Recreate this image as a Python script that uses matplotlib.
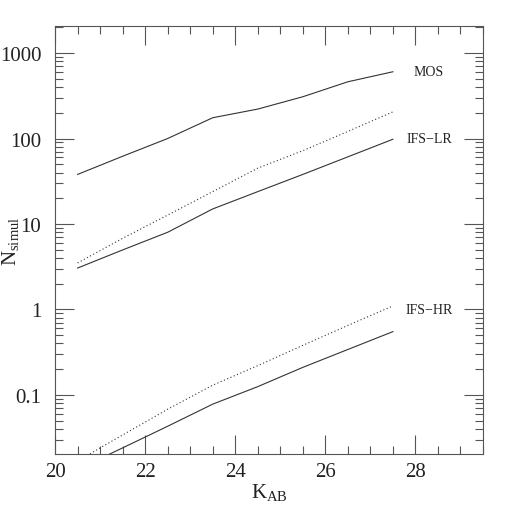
import numpy as np
import matplotlib
matplotlib.use("Agg")
import matplotlib.pyplot as plt
from matplotlib.ticker import FixedLocator, LogLocator, NullFormatter, FixedFormatter

# magnitudes where the curves are sampled
k_ab = [20.5, 21.5, 22.5, 23.5, 24.5, 25.5, 26.5, 27.5]

# number of simulated objects
mos = [38, 62, 100, 175, 221, 308, 461, 604]
ifs_lr_dot = [3.5, 6.8, 12.7, 23.9, 45, 72, 121, 205]
ifs_lr = [3.05, 4.97, 8.0, 15, 23.9, 38, 61, 98]
ifs_hr_dot = [0.0169, 0.034, 0.068, 0.13, 0.22, 0.38, 0.65, 1.1]
ifs_hr = [0.0135, 0.024, 0.043, 0.078, 0.125, 0.21, 0.34, 0.55]

labels = ["MOS", "IFS\u2212LR", "IFS\u2212HR"]
label_y = [604, 100, 1.0]

plt.rcParams['font.family'] = ['Liberation Serif', 'DejaVu Serif']
plt.rcParams['mathtext.fontset'] = 'custom'
plt.rcParams['mathtext.rm'] = 'Liberation Serif'
col = '#333333'

fig = plt.figure(figsize=(5.1, 5.1), dpi=100)
ax = fig.add_axes([0.108, 0.108, 0.839, 0.839])

ax.plot(k_ab, mos, color=col, lw=0.8)
ax.plot(k_ab, ifs_lr_dot, color=col, lw=0.8, ls=(0, (1, 2.2)))
ax.plot(k_ab, ifs_lr, color=col, lw=0.8)
ax.plot(k_ab, ifs_hr_dot, color=col, lw=0.8, ls=(0, (1, 2.2)))
ax.plot(k_ab, ifs_hr, color=col, lw=0.8)

for txt, yv in zip(labels, label_y):
    ax.text(28.3, yv, txt, fontsize=10, ha='center', va='center', color='#222222')

ax.set_yscale('log')
ax.set_xlim(20, 29.5)
ax.set_ylim(0.0204, 2070)

ax.xaxis.set_major_locator(FixedLocator([20, 22, 24, 26, 28]))
ax.xaxis.set_minor_locator(FixedLocator(np.arange(20, 29.6, 0.5)))
ax.yaxis.set_major_locator(FixedLocator([0.1, 1, 10, 100, 1000]))
ax.yaxis.set_major_formatter(FixedFormatter(["0.1", "1", "10", "100", "1000"]))
ax.yaxis.set_minor_locator(LogLocator(base=10, subs=np.arange(2, 10)))
ax.yaxis.set_minor_formatter(NullFormatter())

ax.tick_params(which='both', direction='in', top=True, right=True, colors='#555555',
               labelcolor='#222222', labelsize=15, width=0.8)
ax.tick_params(which='major', length=14)
ax.tick_params(which='minor', length=6)
ax.tick_params(axis='x', which='major', pad=6)
ax.tick_params(axis='y', which='major', pad=10)
for s in ax.spines.values():
    s.set_color('#555555')
    s.set_linewidth(0.8)

ax.set_xlabel(r'K$_{\rm AB}$', fontsize=15, color='#222222', labelpad=0)
ax.set_ylabel(r'N$_{\rm simul}$', fontsize=15, color='#222222')
ax.yaxis.set_label_coords(-0.077, 0.5)

fig.savefig("out.png", dpi=100)
